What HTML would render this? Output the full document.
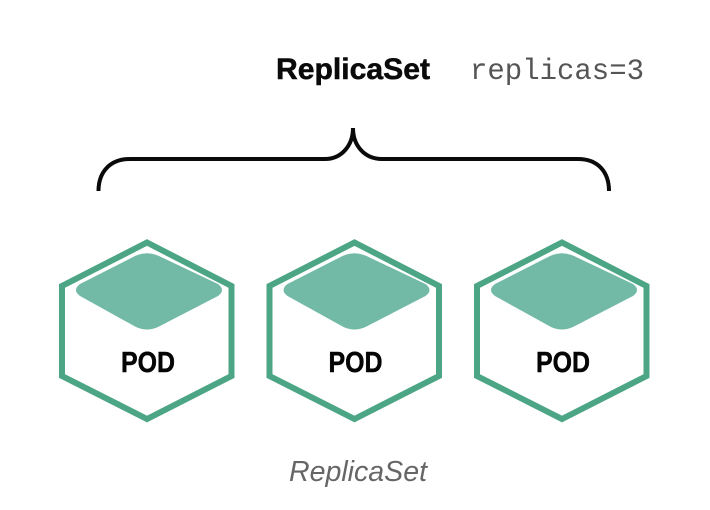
<!DOCTYPE html>
<html><head><meta charset="utf-8"><style>
html,body{margin:0;padding:0;background:#fff;width:710px;height:510px;overflow:hidden}
svg{display:block}
</style></head><body>
<svg width="710" height="510" viewBox="0 0 710 510" xmlns="http://www.w3.org/2000/svg">
<text x="276" y="79" font-family="'Liberation Sans',sans-serif" font-weight="700" font-size="30" textLength="154" lengthAdjust="spacingAndGlyphs" fill="#0a0a0a" stroke="#0a0a0a" stroke-width="0.5">ReplicaSet</text>
<text x="470" y="79" font-family="'Liberation Mono',monospace" font-size="30" textLength="174" lengthAdjust="spacingAndGlyphs" fill="#555">replicas=3</text>
<path d="M98.5 191 C98.500 172 110 159 130 159 L325 159 C341 159 353 146 353 128 C353 146 365 159 382 159 L578 159 C598 159 609 172 609 191" fill="none" stroke="#0a0a0a" stroke-width="4"/>
<g>
<path d="M147 242.500 L231.500 286 L231.500 376 L147 419 L62 376 L62 286 Z" fill="#fff" stroke="#4ca585" stroke-width="6"/>
<path d="M135 256 Q147 250.500 159 256 L218 284 Q226 290 218 296 L158 327 Q147 332 136 327 L80 296 Q72 290 80 284 Z" fill="#72baa6"/>
<text x="121" y="372" font-family="'Liberation Sans',sans-serif" font-weight="700" font-size="29" textLength="54" lengthAdjust="spacingAndGlyphs" fill="#050505" stroke="#050505" stroke-width="0.5">POD</text>
</g>
<g transform="translate(207.500 0)">
<path d="M147 242.500 L231.500 286 L231.500 376 L147 419 L62 376 L62 286 Z" fill="#fff" stroke="#4ca585" stroke-width="6"/>
<path d="M135 256 Q147 250.500 159 256 L218 284 Q226 290 218 296 L158 327 Q147 332 136 327 L80 296 Q72 290 80 284 Z" fill="#72baa6"/>
<text x="121" y="372" font-family="'Liberation Sans',sans-serif" font-weight="700" font-size="29" textLength="54" lengthAdjust="spacingAndGlyphs" fill="#050505" stroke="#050505" stroke-width="0.5">POD</text>
</g>
<g transform="translate(415 0)">
<path d="M147 242.500 L231.500 286 L231.500 376 L147 419 L62 376 L62 286 Z" fill="#fff" stroke="#4ca585" stroke-width="6"/>
<path d="M135 256 Q147 250.500 159 256 L218 284 Q226 290 218 296 L158 327 Q147 332 136 327 L80 296 Q72 290 80 284 Z" fill="#72baa6"/>
<text x="121" y="372" font-family="'Liberation Sans',sans-serif" font-weight="700" font-size="29" textLength="54" lengthAdjust="spacingAndGlyphs" fill="#050505" stroke="#050505" stroke-width="0.5">POD</text>
</g>
<text x="289" y="481" font-family="'Liberation Sans',sans-serif" font-style="italic" font-size="29" textLength="138" lengthAdjust="spacingAndGlyphs" fill="#666">ReplicaSet</text>
</svg>
</body></html>
